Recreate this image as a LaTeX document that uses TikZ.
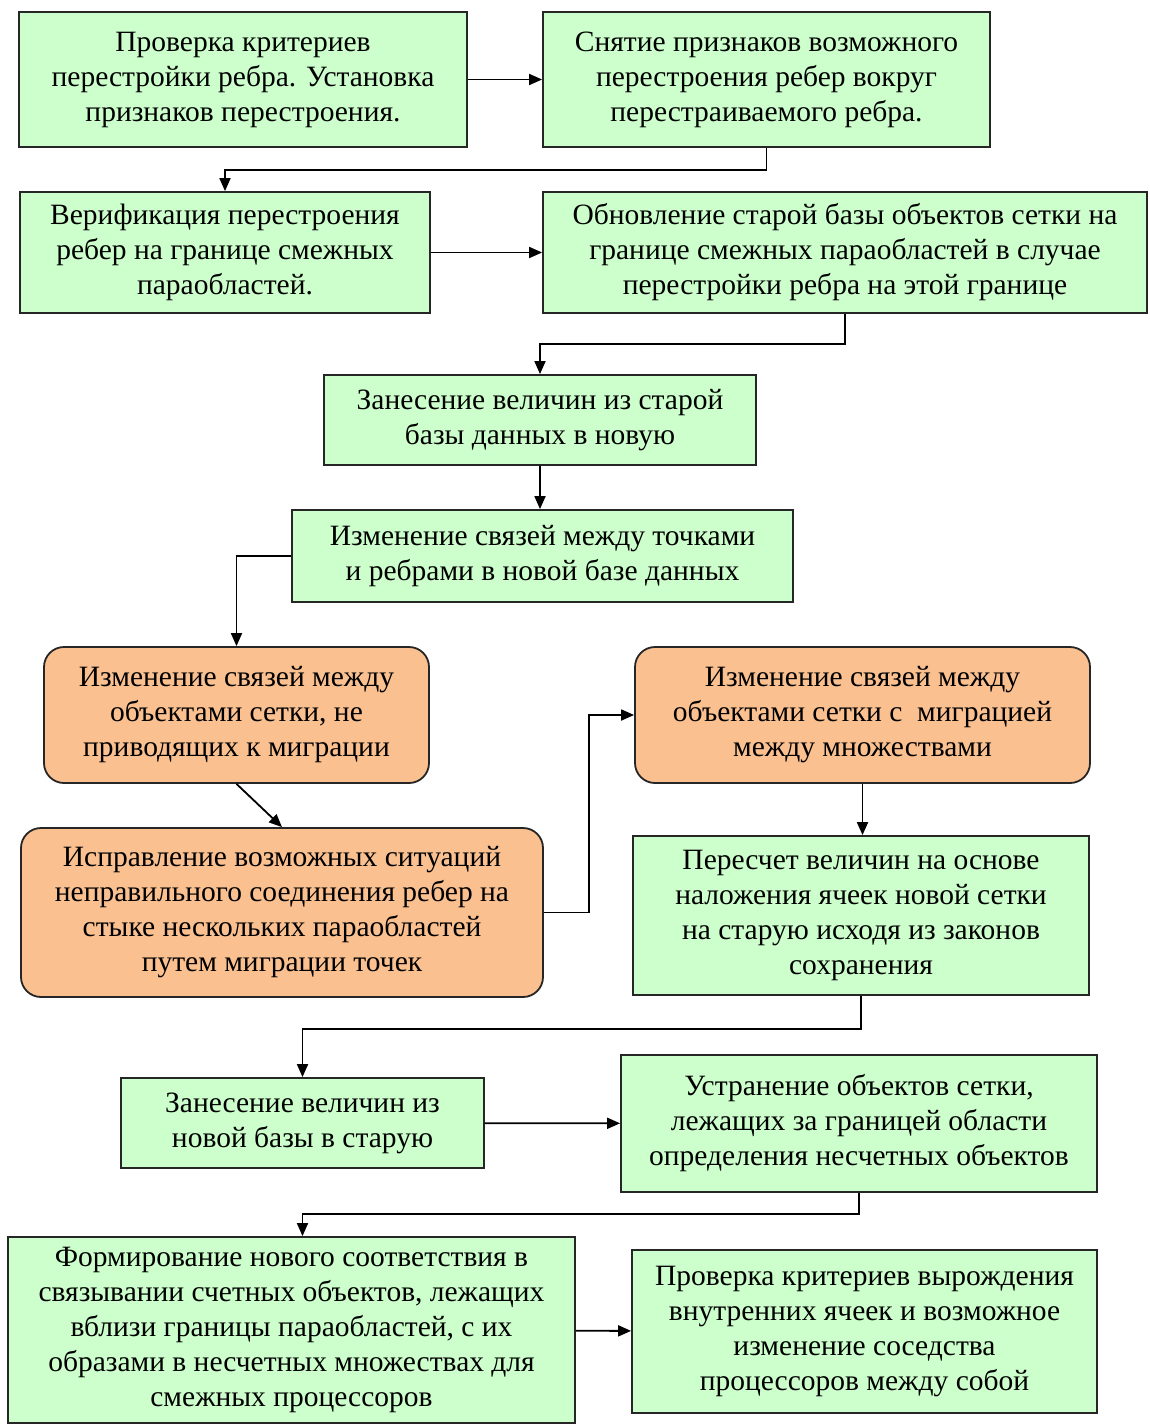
\documentclass[tikz,border=0pt]{standalone}
\usepackage{fontspec}
\setmainfont{Liberation Serif}
\usetikzlibrary{arrows.meta}
\definecolor{greenfill}{RGB}{204,255,204}
\definecolor{orangefill}{RGB}{250,192,144}

\begin{document}
\begin{tikzpicture}[x=1pt, y=-1pt,
    every node/.style={font=\fontsize{29.5}{35}\selectfont, align=center, inner sep=0pt},
    greenbox/.style={draw=black!85, line width=1.8pt, fill=greenfill},
    orangebox/.style={draw=black!85, line width=1.8pt, fill=orangefill, rounded corners=20pt},
    link/.style={line width=1.8pt, -{Triangle[length=13pt, width=11pt]}}]
    \useasboundingbox (0,0) rectangle (1149,1426);

    % Rebuild check and marks
    \node[greenbox, minimum width=448pt, minimum height=135pt] (check) at (243,79.5)
        {Проверка критериев\\перестройки ребра. Установка\\признаков перестроения.};
    \node[greenbox, minimum width=447pt, minimum height=135pt] (unmark) at (766.5,79.5)
        {Снятие признаков возможного\\перестроения ребер вокруг\\перестраиваемого ребра.};
    \draw[link] (check) -- (unmark);

    % Verification on the border
    \node[greenbox, minimum width=410pt, minimum height=121pt] (verify) at (225,252.5)
        {Верификация перестроения\\ребер на границе смежных\\параобластей.};
    \node[greenbox, minimum width=604pt, minimum height=121pt] (update) at (845,252.5)
        {Обновление старой базы объектов сетки на\\границе смежных параобластей в случае\\перестройки ребра на этой границе};
    \draw[link] (unmark.south) -- ++(0,22) -| (verify.north);
    \draw[link] (verify) -- (update);

    % New database
    \node[greenbox, minimum width=432pt, minimum height=90pt] (copynew) at (540,420)
        {Занесение величин из старой\\базы данных в новую};
    \node[greenbox, minimum width=501pt, minimum height=92pt] (relink) at (542.5,556)
        {Изменение связей между точками\\и ребрами в новой базе данных};
    \draw[link] (update.south) -- ++(0,30) -| (copynew.north);
    \draw[link] (copynew.south) -- (copynew.south |- relink.north);

    % Migration branch
    \node[orangebox, minimum width=385pt, minimum height=136pt] (nomig) at (236.5,715)
        {Изменение связей между\\объектами сетки, не\\приводящих к миграции};
    \node[orangebox, minimum width=522pt, minimum height=169pt] (fix) at (282,912.5)
        {Исправление возможных ситуаций\\неправильного соединения ребер на\\стыке нескольких параобластей\\путем миграции точек};
    \node[orangebox, minimum width=455pt, minimum height=136pt] (mig) at (862.5,715)
        {Изменение связей между\\объектами сетки с\ \ миграцией\\между множествами};
    \draw[link] (relink.west) -| (nomig.north);
    \draw[link] (nomig.south) -- (fix.north);
    \draw[link] (fix.east) -- ++(45,0) |- (mig.west);

    % Recalculation
    \node[greenbox, minimum width=456pt, minimum height=159pt] (recalc) at (861,915.5)
        {Пересчет величин на основе\\наложения ячеек новой сетки\\на старую исходя из законов\\сохранения};
    \draw[link] (mig.south) -- (mig.south |- recalc.north);

    % Back to the old database
    \node[greenbox, minimum width=363pt, minimum height=90pt] (copyold) at (302.5,1123)
        {Занесение величин из\\новой базы в старую};
    \node[greenbox, minimum width=476pt, minimum height=137pt] (remove) at (859,1123.5)
        {Устранение объектов сетки,\\лежащих за границей области\\определения несчетных объектов};
    \draw[link] (recalc.south) -- ++(0,33) -| (copyold.north);
    \draw[link] (copyold) -- (remove);

    % Neighbour processors
    \node[greenbox, minimum width=567pt, minimum height=186pt] (match) at (291.5,1330)
        {Формирование нового соответствия в\\связывании счетных объектов, лежащих\\вблизи границы параобластей, с их\\образами в несчетных множествах для\\смежных процессоров};
    \node[greenbox, minimum width=465pt, minimum height=163pt] (degen) at (864.5,1331.5)
        {Проверка критериев вырождения\\внутренних ячеек и возможное\\изменение соседства\\процессоров между собой};
    \draw[link] (remove.south) -- ++(0,21) -| ([xshift=11pt]match.north);
    \draw[link] (match) -- (degen);
\end{tikzpicture}
\end{document}
